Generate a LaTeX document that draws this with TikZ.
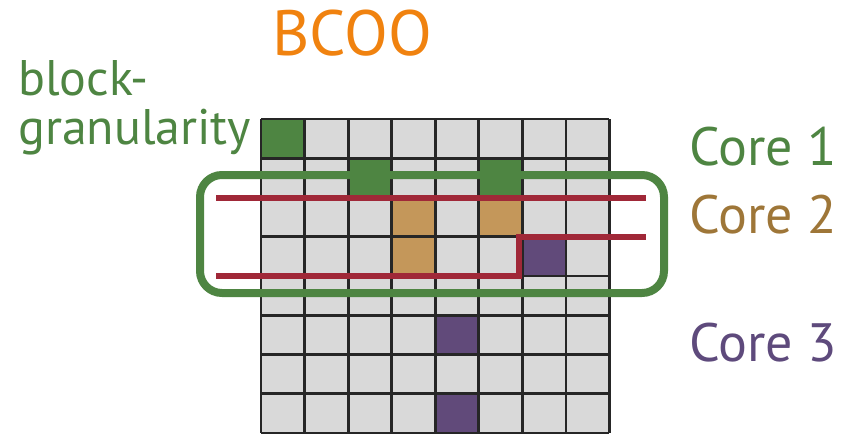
\documentclass[tikz,border=0pt]{standalone}
\usepackage{fontspec}
\setmainfont{PT Sans}
\definecolor{cgreen}{HTML}{4E8542}
\definecolor{ctan}{HTML}{C4975A}
\definecolor{cpurple}{HTML}{614A7A}
\definecolor{cbrown}{HTML}{9E7638}
\definecolor{cptext}{HTML}{5E4A7C}
\definecolor{corange}{HTML}{F0820F}
\definecolor{cred}{HTML}{A02838}
\definecolor{cgray}{HTML}{D9D9D9}
\definecolor{cdark}{HTML}{262626}
\tikzset{
  lbl/.style={anchor=base west, inner sep=0pt, font=\fontsize{54}{60}\selectfont},
  gridline/.style={line width=2.8pt, draw=cdark},
  redline/.style={line width=6pt, draw=cred},
}
\begin{document}
\begin{tikzpicture}[x=1pt,y=-1pt]
\useasboundingbox (0,0) rectangle (855,434);
\begin{scope}[shift={(261,119)}, x=43.56pt, y=-39.25pt]
  \fill[cgray] (0,0) rectangle (8,8);
  \fill[cgreen] (0,0) rectangle (1,1) (2,1) rectangle (3,2) (5,1) rectangle (6,2);
  \fill[ctan] (3,2) rectangle (4,4) (5,2) rectangle (6,3);
  \fill[cpurple] (6,3) rectangle (7,4) (4,5) rectangle (5,6) (4,7) rectangle (5,8);
  \foreach \i in {0,...,8} {
    \draw[gridline] (\i,0) -- (\i,8);
    \draw[gridline] (0,\i) -- (8,\i);
  }
\end{scope}
\draw[cgreen, line width=8pt, rounded corners=22pt] (200,175) rectangle (664,293);
\coordinate (r1a) at (216,198);
\coordinate (r1b) at (646,198);
\coordinate (r2a) at (646,237);
\coordinate (r2b) at (216,276);
\draw[redline] (r1a) -- (r1b);
\draw[redline] (r2a) -- (519,237) -- (519,276) -- (r2b);
\node[lbl, text=corange, font=\fontsize{64}{70}\selectfont] (title) at (272,55) {BCOO};
\node[lbl, text=cgreen, font=\fontsize{50}{56}\selectfont] (blk) at (18,95) {block-};
\node[lbl, text=cgreen, font=\fontsize{50}{56}\selectfont] (gran) at (18,144) {granularity};
\node[lbl, text=cgreen] (c1) at (689,165) {Core 1};
\node[lbl, text=cbrown] (c2) at (689,233) {Core 2};
\node[lbl, text=cptext] (c3) at (689,361) {Core 3};
\end{tikzpicture}
\end{document}
